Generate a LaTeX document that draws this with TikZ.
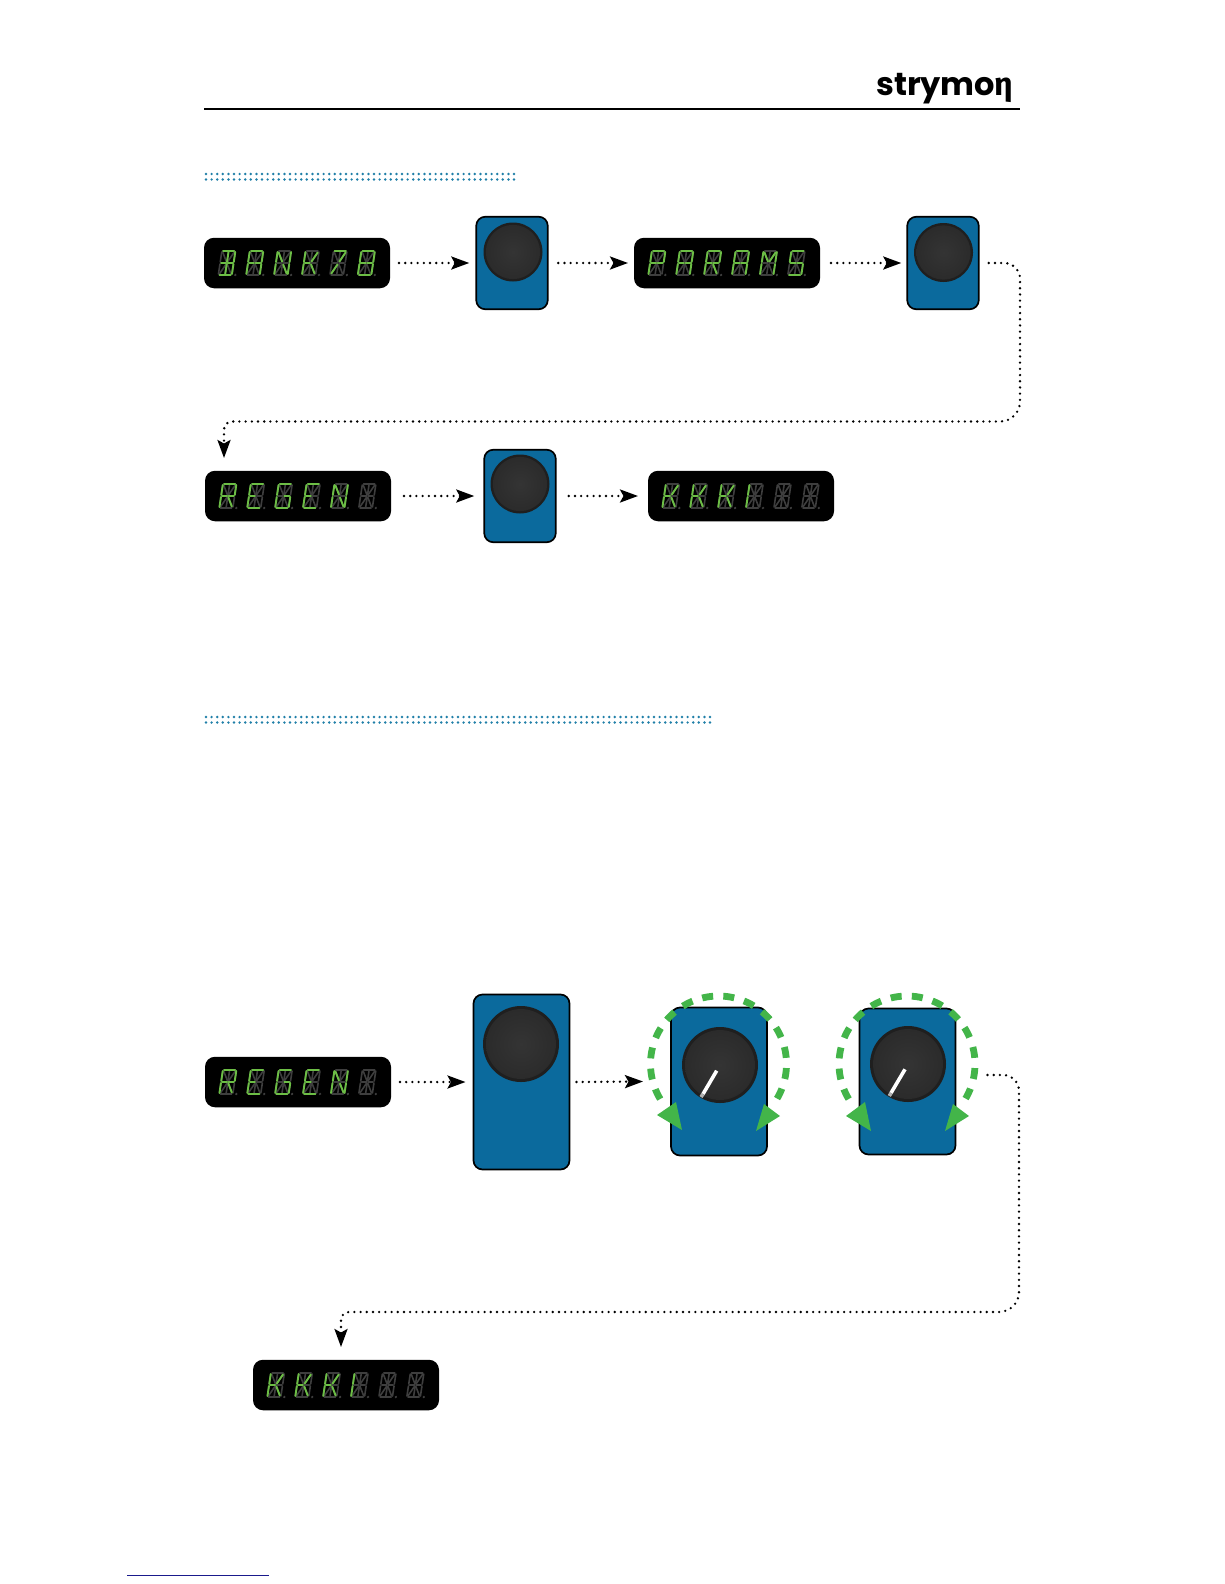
\documentclass[tikz,border=0pt]{standalone}
\usepackage{fontspec}
\usetikzlibrary{arrows.meta}
\newfontfamily\logofont{Poppins}
\newfontfamily\logoeta{Fira Sans}
\definecolor{pedalblue}{HTML}{0B6A9D}
\definecolor{litseg}{HTML}{6CBE45}
\definecolor{dimseg}{HTML}{3E3E3E}
\definecolor{teal}{HTML}{1F7FA8}
\definecolor{ringgreen}{HTML}{43B549}
\definecolor{footblue}{HTML}{1A1A8C}
\definecolor{knobrim}{HTML}{1F1F1F}
\definecolor{knobmid}{HTML}{343434}
\definecolor{knobout}{HTML}{2B2B2B}
\tikzset{
  lcdbox/.style={draw=none,fill=black,rounded corners=10pt,minimum width=186pt,minimum height=50.5pt,inner sep=0pt,outer sep=0pt},
  pedalbox/.style={draw=black,line width=1.7pt,fill=pedalblue,rounded corners=9pt,inner sep=0pt,outer sep=0pt},
  conn/.style={line width=2.6pt,line cap=round,dash pattern=on 0pt off 6.2pt,-{Stealth[length=18pt,width=13pt,inset=3.5pt]},black},
  tealdots/.style={line width=2.7pt,line cap=round,dash pattern=on 0pt off 5.6pt,teal},
  offseg/.style={line width=1.6pt,dimseg,line cap=round},
  onseg/.style={line width=1.9pt,litseg,line cap=round},
  ringdash/.style={line width=6.8pt,ringgreen,dash pattern=on 11pt off 10.2pt},
  ringhead/.style={fill=ringgreen,draw=none},
  needle/.style={line width=3.6pt,white}
}
\def\sega{(1.2,0)--(12.3,0)}
\def\segb{(13.5,1)--(13.5,11)}
\def\segc{(13.5,13)--(13.5,23)}
\def\segd{(1.2,24)--(12.3,24)}
\def\sege{(0,13)--(0,23)}
\def\segf{(0,1)--(0,11)}
\def\segg{(1,12)--(6,12)}
\def\segm{(7.5,12)--(12.5,12)}
\def\segh{(1.2,1.5)--(6,10.5)}
\def\segi{(6.75,1.2)--(6.75,10.8)}
\def\segj{(12.3,1.5)--(7.5,10.5)}
\def\segk{(6,13.5)--(1.2,22.5)}
\def\segl{(6.75,13.2)--(6.75,22.8)}
\def\segn{(7.5,13.5)--(12.3,22.5)}
\newcommand\paintseg[2]{\expandafter\let\expandafter\thisseg\csname seg#2\endcsname\draw[#1] \thisseg;}
\newcommand\lcdchar[3]{%
  \begin{scope}[shift={(#1,#2)},xslant=0.15]
    \foreach \s in {a,b,c,d,e,f,g,m,h,i,j,k,l,n}{\paintseg{offseg}{\s}}
    \fill[dimseg] (17,24) circle (1.3pt);
    \edef\litlist{#3}
    \foreach \s in \litlist {\paintseg{onseg}{\s}}
  \end{scope}}
% x of left edge, y of centre, six segment lists
\newcommand\lcdword[8]{%
  \lcdchar{#1+17.9}{#2-12}{#3}
  \lcdchar{#1+45.8}{#2-12}{#4}
  \lcdchar{#1+73.7}{#2-12}{#5}
  \lcdchar{#1+101.6}{#2-12}{#6}
  \lcdchar{#1+129.5}{#2-12}{#7}
  \lcdchar{#1+157.4}{#2-12}{#8}}
\def\chB{a,b,c,d,g,i,l,m}
\def\chA{a,b,c,e,f,g,m}
\def\chN{b,c,e,f,h,n}
\def\chK{e,f,g,j,n}
\def\chSeven{a,j,k}
\def\chEight{a,b,c,d,e,f,g,m}
\def\chP{a,b,e,f,g,m}
\def\chR{a,b,e,f,g,m,n}
\def\chM{b,c,e,f,h,j}
\def\chS{a,f,g,m,c,d}
\def\chE{a,d,e,f,g}
\def\chG{a,c,d,e,f,m}
\def\chBar{e,f}
\newcommand\knobat[3]{% x y r
  \fill[knobrim] (#1,#2) circle (#3pt);
  \shade[inner color=knobmid,outer color=knobout] (#1,#2) circle ({#3*0.92pt});}
\begin{document}
\begin{tikzpicture}[x=1pt,y=-1pt]
\useasboundingbox (0,0) rectangle (1224,1584);
\fill[white] (0,0) rectangle (1224,1584);
% header
\node[anchor=base west,inner sep=0pt,font=\fontsize{32}{32}\selectfont] (logo) at (876,96) {\logofont\bfseries stry\kern-0.5pt mo\logoeta\bfseries η};
\draw[line width=2pt] (204,109.3) -- (1020,109.3);
% section bars
\draw[tealdots] (206,174) -- (518,174);
\draw[tealdots] (206,179.5) -- (518,179.5);
\draw[tealdots] (206,717) -- (712,717);
\draw[tealdots] (206,722.5) -- (712,722.5);
% displays
\node[lcdbox] (d1) at (297,263) {};
\node[lcdbox] (d2) at (727,263) {};
\node[lcdbox] (d3) at (298,496) {};
\node[lcdbox] (d4) at (741,496) {};
\node[lcdbox] (d5) at (298,1082) {};
\node[lcdbox] (d6) at (346,1385) {};
\lcdword{204}{263}{\chB}{\chA}{\chN}{\chK}{\chSeven}{\chEight}
\lcdword{634}{263}{\chP}{\chA}{\chR}{\chA}{\chM}{\chS}
\lcdword{205}{496}{\chR}{\chE}{\chG}{\chE}{\chN}{}
\lcdword{648}{496}{\chK}{\chK}{\chK}{\chBar}{}{}
\lcdword{205}{1082}{\chR}{\chE}{\chG}{\chE}{\chN}{}
\lcdword{253}{1385}{\chK}{\chK}{\chK}{\chBar}{}{}
% pedals
\node[pedalbox,minimum width=71.5pt,minimum height=92.5pt] (p1) at (512,263) {};
\node[pedalbox,minimum width=71.5pt,minimum height=92.5pt] (p2) at (943,263) {};
\node[pedalbox,minimum width=71.5pt,minimum height=92.5pt] (p3) at (520,496) {};
\node[pedalbox,minimum width=96pt,minimum height=175pt] (p4) at (521.5,1082) {};
\node[pedalbox,minimum width=96pt,minimum height=148pt] (p5) at (719,1081.5) {};
\node[pedalbox,minimum width=96pt,minimum height=146pt] (p6) at (907.5,1081.5) {};
\knobat{513}{252}{29.5}
\knobat{943.5}{252.5}{29.5}
\knobat{520}{484}{29.5}
\knobat{521}{1044}{38}
\knobat{720}{1065}{38}
\knobat{908}{1064}{38}
% needles
\draw[needle] (716.7,1070.7) -- (703,1094);
\draw[line width=3.6pt,black!30!white] (703,1094) -- (701,1097);
\draw[needle] (905,1069.3) -- (891,1093);
\draw[line width=3.6pt,black!30!white] (891,1093) -- (889.3,1096);
% rings
\draw[ringdash] plot[domain=211:-31,samples=80] ({718.5+68*cos(\x)},{1064-68*sin(\x)});
\draw[ringdash] plot[domain=211:-31,samples=80] ({907+68*cos(\x)},{1064-68*sin(\x)});
\fill[ringhead] (657,1115) -- (676,1102) -- (682,1130) -- cycle;
\fill[ringhead] (780,1116) -- (764,1104) -- (756,1131) -- cycle;
\fill[ringhead] (846,1116) -- (865,1102) -- (871,1131) -- cycle;
\fill[ringhead] (969,1116) -- (953,1104) -- (945,1131) -- cycle;
% connectors
\coordinate (t1) at (1020,263);
\coordinate (t2) at (1020,421.5);
\coordinate (t3) at (224,421.5);
\coordinate (t4) at (224,458);
\coordinate (u1) at (1019,1075);
\coordinate (u2) at (1019,1312);
\coordinate (u3) at (341,1312);
\coordinate (u4) at (341,1347);
\draw[conn] ([xshift=9pt]d1.east) -- ([xshift=-7pt]p1.west);
\draw[conn] ([xshift=10.5pt]p1.east) -- ([xshift=-6pt]d2.west);
\draw[conn] ([xshift=11pt]d2.east) -- ([xshift=-6pt]p2.west);
\draw[conn] ([xshift=10pt]p2.east) [rounded corners=16pt] -- (t1) [rounded corners=20pt] -- (t2) [rounded corners=8pt] -- (t3) -- (t4);
\draw[conn] ([xshift=13pt]d3.east) -- ([xshift=-10pt]p3.west);
\draw[conn] ([xshift=13pt]p3.east) -- ([xshift=-10pt]d4.west);
\draw[conn] ([xshift=9pt]d5.east) -- ([xshift=-8pt]p4.west);
\draw[conn] ([xshift=7pt]p4.east) -- ([xshift=-28pt]p5.west);
\draw[conn] ([xshift=32pt,yshift=6.5pt]p6.east) [rounded corners=16pt] -- (u1) [rounded corners=20pt] -- (u2) [rounded corners=8pt] -- (u3) -- (u4);
% foot rule
\draw[line width=1pt,footblue] (127,1575) -- (269,1575);
\end{tikzpicture}
\end{document}
